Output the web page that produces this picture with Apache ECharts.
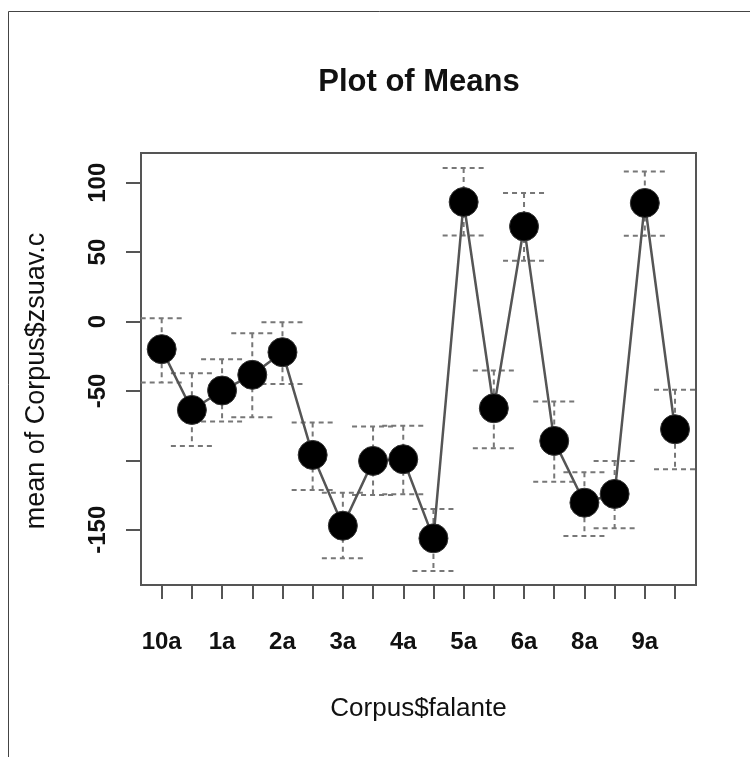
<!DOCTYPE html>
<html>
<head>
<meta charset="utf-8">
<script src="https://cdn.jsdelivr.net/npm/echarts@6/dist/echarts.min.js"></script>
<style>html,body{margin:0;padding:0;background:#fff;}#c{width:750px;height:757px;}</style>
</head>
<body>
<div id="c"></div>
<script>
// Category labels (R shows every other label; unlabelled ticks left blank)
const categories = ['10a','','1a','','2a','','3a','','4a','','5a','','6a','','8a','','9a',''];
const positions = [1,2,3,4,5,6,7,8,9,10,11,12,13,14,15,16,17,18];
// Means and error-bar limits
const means = [-19.9,-63.7,-49.7,-38.4,-22.1,-96.1,-147.1,-100.4,-99.2,-156.2,86.1,-62.5,68.5,-86.0,-130.5,-124.2,85.4,-77.6];
const upper = [2.4,-37.2,-27.1,-8.4,-0.5,-72.8,-123.3,-75.7,-75.0,-135.0,110.6,-35.3,92.6,-57.7,-108.6,-100.4,108.1,-49.2];
const lower = [-44.0,-89.6,-72.1,-69.0,-45.0,-121.3,-170.6,-125.0,-124.4,-179.7,62.0,-91.3,43.8,-115.4,-154.5,-149.0,61.8,-106.4];
// Axis ticks
const yTicks = [-150,-100,-50,0,50,100];
const yTickLabels = ['-150','','-50','0','50','100'];
const xLabelPositions = [1,3,5,7,9,11,13,15,17];

const FONT = '"Liberation Sans", Arial, Helvetica, sans-serif';

const lineData = positions.map((p,i)=>[p, means[i]]);
const errData = positions.map((p,i)=>[p, upper[i], lower[i]]);

const chart = echarts.init(document.getElementById('c'), null, {renderer:'canvas'});
chart.setOption({
  animation: false,
  backgroundColor: '#fff',
  title: {
    text: 'Plot of Means',
    left: 419, top: 67, padding: 0, textAlign: 'center',
    textStyle: {fontFamily: FONT, fontSize: 31, fontWeight: 'bold', color: '#111'}
  },
  graphic: [{
    type: 'polyline', silent: true,
    shape: {points: [[8.5,757],[8.5,11.5],[750,11.5]]},
    style: {stroke: '#444', lineWidth: 1, fill: null}
  }],
  grid: {left: 141, top: 153, width: 555, height: 432, show: true, borderColor: '#555', borderWidth: 2, backgroundColor: 'transparent'},
  xAxis: {
    type: 'value', min: 0.315, max: 18.695,
    axisLine: {show: false, onZero: false},
    splitLine: {show: false},
    axisTick: {show: true, length: 14, customValues: positions, lineStyle: {color: '#555', width: 2}},
    axisLabel: {
      customValues: xLabelPositions, margin: 45,
      formatter: v => categories[Math.round(v) - 1] || '',
      fontFamily: FONT, fontSize: 24, fontWeight: 'bold', color: '#111'
    },
    name: 'Corpus$falante', nameLocation: 'middle', nameGap: 111,
    nameTextStyle: {fontFamily: FONT, fontSize: 26, color: '#111'}
  },
  yAxis: {
    type: 'value', min: -189.8, max: 121.4,
    axisLine: {show: false, onZero: false},
    splitLine: {show: false},
    axisTick: {show: true, length: 15, customValues: yTicks, lineStyle: {color: '#555', width: 2}},
    axisLabel: {
      customValues: yTicks, rotate: 90, margin: 31,
      formatter: v => yTickLabels[yTicks.indexOf(Math.round(v))] || '',
      fontFamily: FONT, fontSize: 24, fontWeight: 'bold', color: '#111'
    },
    name: 'mean of Corpus$zsuav.c', nameLocation: 'middle', nameGap: 91, nameRotate: 90,
    nameTextStyle: {fontFamily: FONT, fontSize: 27, color: '#111', padding: [0, 24, 0, 0]}
  },
  series: [
    {
      type: 'custom', z: 1,
      data: errData,
      renderItem: function (params, api) {
        const x = api.value(0), hi = api.value(1), lo = api.value(2);
        const pHi = api.coord([x, hi]), pLo = api.coord([x, lo]);
        const hw = 21;
        const st = {stroke: '#777', lineWidth: 2, lineDash: [5, 4], fill: null};
        return {type: 'group', children: [
          {type: 'line', shape: {x1: pHi[0], y1: pHi[1], x2: pLo[0], y2: pLo[1]}, style: st},
          {type: 'line', shape: {x1: pHi[0]-hw, y1: pHi[1], x2: pHi[0]+hw, y2: pHi[1]}, style: st},
          {type: 'line', shape: {x1: pLo[0]-hw, y1: pLo[1], x2: pLo[0]+hw, y2: pLo[1]}, style: st}
        ]};
      }
    },
    {
      type: 'line', z: 2,
      data: lineData,
      lineStyle: {color: '#555', width: 2.5},
      symbol: 'circle', symbolSize: 29,
      itemStyle: {color: '#000', borderColor: '#333', borderWidth: 1},
      emphasis: {disabled: true}
    }
  ]
});
</script>
</body>
</html>
